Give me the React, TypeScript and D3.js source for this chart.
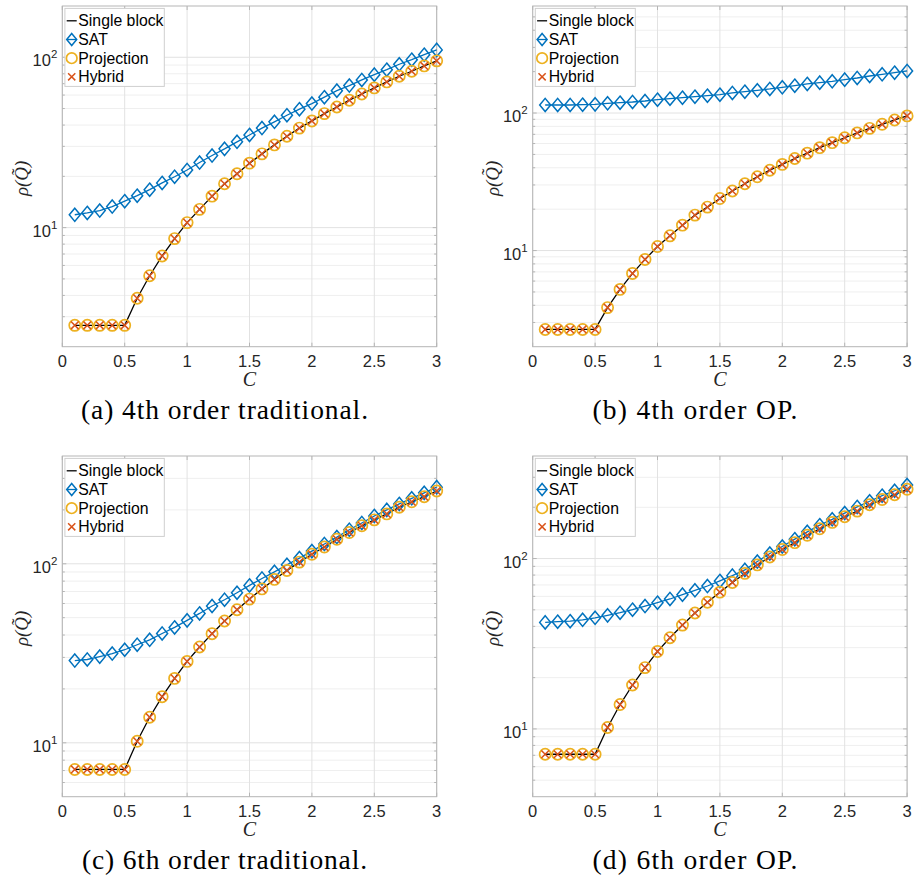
import React from "react";
import * as d3 from "d3";

// ---- data ----
const cValues = [0.1, 0.2, 0.3, 0.4, 0.5, 0.6, 0.7, 0.8, 0.9, 1.0, 1.1, 1.2, 1.3, 1.4, 1.5, 1.6, 1.7, 1.8, 1.9, 2.0, 2.1, 2.2, 2.3, 2.4, 2.5, 2.6, 2.7, 2.8, 2.9, 3.0];
const xTicks = [0, 0.5, 1, 1.5, 2, 2.5, 3];
const xTickLabels = ["0", "0.5", "1", "1.5", "2", "2.5", "3"];
const yTickDecades = [1, 2];
const seriesNames = ["Single block", "SAT", "Projection", "Hybrid"];

const sat4Traditional = [11.9, 12.2, 12.6, 13.3, 14.3, 15.4, 16.7, 18.3, 19.9, 21.8, 24.1, 26.5, 29.0, 31.9, 35.0, 38.4, 41.8, 45.7, 49.6, 53.5, 58.3, 63.7, 68.2, 73.6, 79.1, 84.6, 91.0, 96.8, 103.6, 110.5];
const sat4OP = [114.4, 114.4, 114.4, 115.0, 115.6, 117.6, 118.9, 120.3, 122.3, 125.0, 127.2, 129.3, 131.5, 133.7, 136.0, 139.9, 143.0, 146.2, 149.6, 153.8, 158.1, 162.7, 166.3, 170.1, 174.9, 179.8, 185.9, 191.2, 196.6, 202.2];
const sat6Traditional = [28.8, 29.2, 30.3, 31.5, 33.1, 35.3, 37.6, 40.8, 44.1, 48.3, 52.8, 58.1, 63.0, 68.9, 75.7, 82.8, 90.2, 98.7, 107.6, 117.7, 129, 141, 155, 169, 185, 200, 216, 232, 249, 268];
const sat6OP = [42.2, 42.6, 42.9, 43.7, 44.9, 46.4, 48.1, 50.1, 52.6, 55.1, 57.9, 61.4, 65.1, 69.0, 73.9, 79.4, 85.8, 96, 107, 117.7, 130, 143.5, 157, 170, 185, 201, 217, 234, 250, 270];

const singleBlock4 = [2.67, 2.67, 2.67, 2.67, 2.67, 3.85, 5.22, 6.82, 8.62, 10.7, 12.8, 15.3, 18.1, 20.7, 23.9, 27.1, 30.6, 34.4, 38.4, 42.3, 46.7, 51.1, 56.0, 60.9, 66.1, 71.7, 77.4, 82.8, 89.0, 95.3];
const projection4 = [2.67, 2.67, 2.67, 2.67, 2.67, 3.85, 5.22, 6.82, 8.62, 10.7, 12.8, 15.3, 18.1, 20.7, 23.9, 27.1, 30.6, 34.4, 38.4, 42.3, 46.7, 51.1, 56.0, 60.9, 66.1, 71.7, 77.4, 82.8, 89.0, 95.3];
const hybrid4 = [2.67, 2.67, 2.67, 2.67, 2.67, 3.85, 5.22, 6.82, 8.62, 10.7, 12.8, 15.3, 18.1, 20.7, 23.9, 27.1, 30.6, 34.4, 38.4, 42.3, 46.7, 51.1, 56.0, 60.9, 66.1, 71.7, 77.4, 82.8, 89.0, 95.3];
const singleBlock6 = [7.1, 7.1, 7.1, 7.1, 7.1, 10.2, 13.9, 18.1, 22.9, 28.5, 34.3, 40.7, 47.9, 55.4, 63.5, 72.4, 81.8, 91.8, 102.2, 113, 124, 137, 149.5, 163, 176, 190, 207, 222, 237, 255];
const projection6 = [7.1, 7.1, 7.1, 7.1, 7.1, 10.2, 13.9, 18.1, 22.9, 28.5, 34.3, 40.7, 47.9, 55.4, 63.5, 72.4, 81.8, 91.8, 102.2, 113, 124, 137, 149.5, 163, 176, 190, 207, 222, 237, 255];
const hybrid6 = [7.1, 7.1, 7.1, 7.1, 7.1, 10.2, 13.9, 18.1, 22.9, 28.5, 34.3, 40.7, 47.9, 55.4, 63.5, 72.4, 81.8, 91.8, 102.2, 113, 124, 137, 149.5, 163, 176, 190, 207, 222, 237, 255];

const captions = ["(a) 4th order traditional.", "(b) 4th order OP.", "(c) 6th order traditional.", "(d) 6th order OP."];
const yDomains: [number, number][] = [[2, 200], [2, 600], [5, 400], [4, 400]];

// ---- styles ----
const BLUE = "#0072BD";
const ORANGE = "#EDB120";
const RED = "#D95319";
const AXIS = "#b5b5b5";
const GRID = "#e2e2e2";
const GRID_MINOR = "#efefef";
const TEXT = "#262626";
const SANS = "'Liberation Sans', Arial, Helvetica, sans-serif";
const SERIF = "'Liberation Serif', 'Times New Roman', serif";

const AX_W = 374.4;
const AX_H = 340.7;
const layout = [
  { left: 62.3, top: 6, capW: 287 },
  { left: 532.7, top: 6, capW: 205 },
  { left: 62.3, top: 456, capW: 285 },
  { left: 532.7, top: 456, capW: 205 },
];

const panelData = [
  { sat: sat4Traditional, single: singleBlock4, proj: projection4, hyb: hybrid4 },
  { sat: sat4OP, single: singleBlock4, proj: projection4, hyb: hybrid4 },
  { sat: sat6Traditional, single: singleBlock6, proj: projection6, hyb: hybrid6 },
  { sat: sat6OP, single: singleBlock6, proj: projection6, hyb: hybrid6 },
];

function Diamond({ x, y, hw = 5.5, hh = 6.6 }: { x: number; y: number; hw?: number; hh?: number }) {
  return (
    <path
      d={`M${x},${y - hh}L${x + hw},${y}L${x},${y + hh}L${x - hw},${y}Z`}
      fill="none"
      stroke={BLUE}
      strokeWidth={1.5}
    />
  );
}

function Cross({ x, y, s = 3.8 }: { x: number; y: number; s?: number }) {
  return (
    <path
      d={`M${x - s},${y - s}L${x + s},${y + s}M${x - s},${y + s}L${x + s},${y - s}`}
      stroke={RED}
      strokeWidth={1.5}
      fill="none"
    />
  );
}

function Panel({ idx }: { idx: number }) {
  const { left, top, capW } = layout[idx];
  const [y0, y1] = yDomains[idx];
  const data = panelData[idx];
  const x = d3.scaleLinear().domain([0, 3]).range([left, left + AX_W]);
  const y = d3.scaleLog().domain([y0, y1]).range([top + AX_H, top]);
  const bottom = top + AX_H;
  const right = left + AX_W;

  const minor: number[] = [];
  [1, 10, 100].forEach((d) => {
    for (let m = 1; m <= 9; m++) {
      const v = m * d;
      if (v > y0 && v < y1) minor.push(v);
    }
  });
  const majorVals = yTickDecades.map((e) => Math.pow(10, e));

  const line = d3
    .line<number>()
    .x((_, i) => x(cValues[i]))
    .y((d) => y(d));

  const cx = (left + right) / 2;
  const lgX = left + 2.6;
  const lgY = top + 2.4;
  const rowY = [12.4, 31.1, 49.8, 68.4].map((o) => lgY + o);
  const iconX = lgX + 6.8;
  const textX = lgX + 13.4;

  return (
    <g>
      {/* grid */}
      {minor.filter((v) => !majorVals.includes(v)).map((v) => (
        <line key={"mg" + v} x1={left} x2={right} y1={y(v)} y2={y(v)} stroke={GRID_MINOR} strokeWidth={1} />
      ))}
      {majorVals.map((v) => (
        <line key={"Mg" + v} x1={left} x2={right} y1={y(v)} y2={y(v)} stroke={GRID} strokeWidth={1} />
      ))}
      {xTicks.map((t) => (
        <line key={"xg" + t} x1={x(t)} x2={x(t)} y1={top} y2={bottom} stroke={GRID} strokeWidth={1} />
      ))}

      {/* ticks */}
      {xTicks.map((t) => (
        <g key={"xt" + t}>
          <line x1={x(t)} x2={x(t)} y1={bottom} y2={bottom - 4} stroke={AXIS} />
          <line x1={x(t)} x2={x(t)} y1={top} y2={top + 4} stroke={AXIS} />
        </g>
      ))}
      {minor.map((v) => (
        <g key={"yt" + v}>
          <line x1={left} x2={left + (majorVals.includes(v) ? 4 : 2.5)} y1={y(v)} y2={y(v)} stroke={AXIS} />
          <line x1={right} x2={right - (majorVals.includes(v) ? 4 : 2.5)} y1={y(v)} y2={y(v)} stroke={AXIS} />
        </g>
      ))}

      {/* axes box */}
      <rect x={left} y={top} width={AX_W} height={AX_H} fill="none" stroke={AXIS} strokeWidth={1} />

      {/* series */}
      <path d={line(data.single) || ""} fill="none" stroke="#000" strokeWidth={1.3} />
      <path d={line(data.sat) || ""} fill="none" stroke={BLUE} strokeWidth={1.3} />
      {data.sat.map((v, i) => (
        <Diamond key={"d" + i} x={x(cValues[i])} y={y(v)} />
      ))}
      {data.proj.map((v, i) => (
        <circle key={"c" + i} cx={x(cValues[i])} cy={y(v)} r={5.6} fill="none" stroke={ORANGE} strokeWidth={1.7} />
      ))}
      {data.hyb.map((v, i) => (
        <Cross key={"x" + i} x={x(cValues[i])} y={y(v)} />
      ))}

      {/* x tick labels */}
      {xTicks.map((t, i) => (
        <text key={"xl" + t} x={x(t)} y={bottom + 20.5} textAnchor="middle" fontFamily={SANS} fontSize={16.5} fill={TEXT}>
          {xTickLabels[i]}
        </text>
      ))}
      {/* y tick labels */}
      {yTickDecades.map((e) => (
        <text key={"yl" + e} x={left - 5} y={y(Math.pow(10, e)) + 9} textAnchor="end" fontFamily={SANS} fontSize={16.5} fill={TEXT}>
          10
          <tspan fontSize={11.5} dy={-8}>{String(e)}</tspan>
        </text>
      ))}

      {/* axis labels */}
      <text x={cx} y={bottom + 39.5} textAnchor="middle" fontFamily={SERIF} fontStyle="italic" fontSize={20} fill={TEXT}>
        C
      </text>
      <text
        transform={`translate(${left - 34},${top + AX_H / 2 + 2}) rotate(-90)`}
        textAnchor="middle"
        fontFamily={SERIF}
        fontStyle="italic"
        fontSize={19}
        fill={TEXT}
      >
        {"\u03C1(Q\u0303)"}
      </text>

      {/* caption */}
      <text
        x={cx - 25 - capW / 2}
        y={bottom + 72.5}
        textLength={capW}
        lengthAdjust="spacing"
        fontFamily={SERIF}
        fontSize={27.5}
        fill="#000"
      >
        {captions[idx]}
      </text>

      {/* legend */}
      <rect x={lgX} y={lgY} width={idx % 2 === 0 ? 99.4 : 100} height={78} fill="#fff" stroke="#cfcfcf" strokeWidth={1} />
      <line x1={iconX - 5} x2={iconX + 5} y1={rowY[0]} y2={rowY[0]} stroke="#000" strokeWidth={1.3} />
      <line x1={iconX - 5} x2={iconX + 5} y1={rowY[1]} y2={rowY[1]} stroke={BLUE} strokeWidth={1.3} />
      <Diamond x={iconX} y={rowY[1]} hw={5} hh={6} />
      <circle cx={iconX} cy={rowY[2]} r={5.3} fill="none" stroke={ORANGE} strokeWidth={1.7} />
      <Cross x={iconX} y={rowY[3]} s={3.6} />
      {seriesNames.map((n, i) => (
        <text key={"lg" + n} x={textX} y={rowY[i]} dy="0.36em" fontFamily={SANS} fontSize={15.8} fill="#000">
          {n}
        </text>
      ))}
    </g>
  );
}

export default function App() {
  return (
    <div style={{ position: "absolute", left: 0, top: 0 }}>
      <svg width={916} height={879} viewBox="0 0 916 879" style={{ display: "block", background: "#fff" }}>
        <rect x={0} y={0} width={916} height={879} fill="#fff" />
        {[0, 1, 2, 3].map((i) => (
          <Panel key={i} idx={i} />
        ))}
      </svg>
    </div>
  );
}
